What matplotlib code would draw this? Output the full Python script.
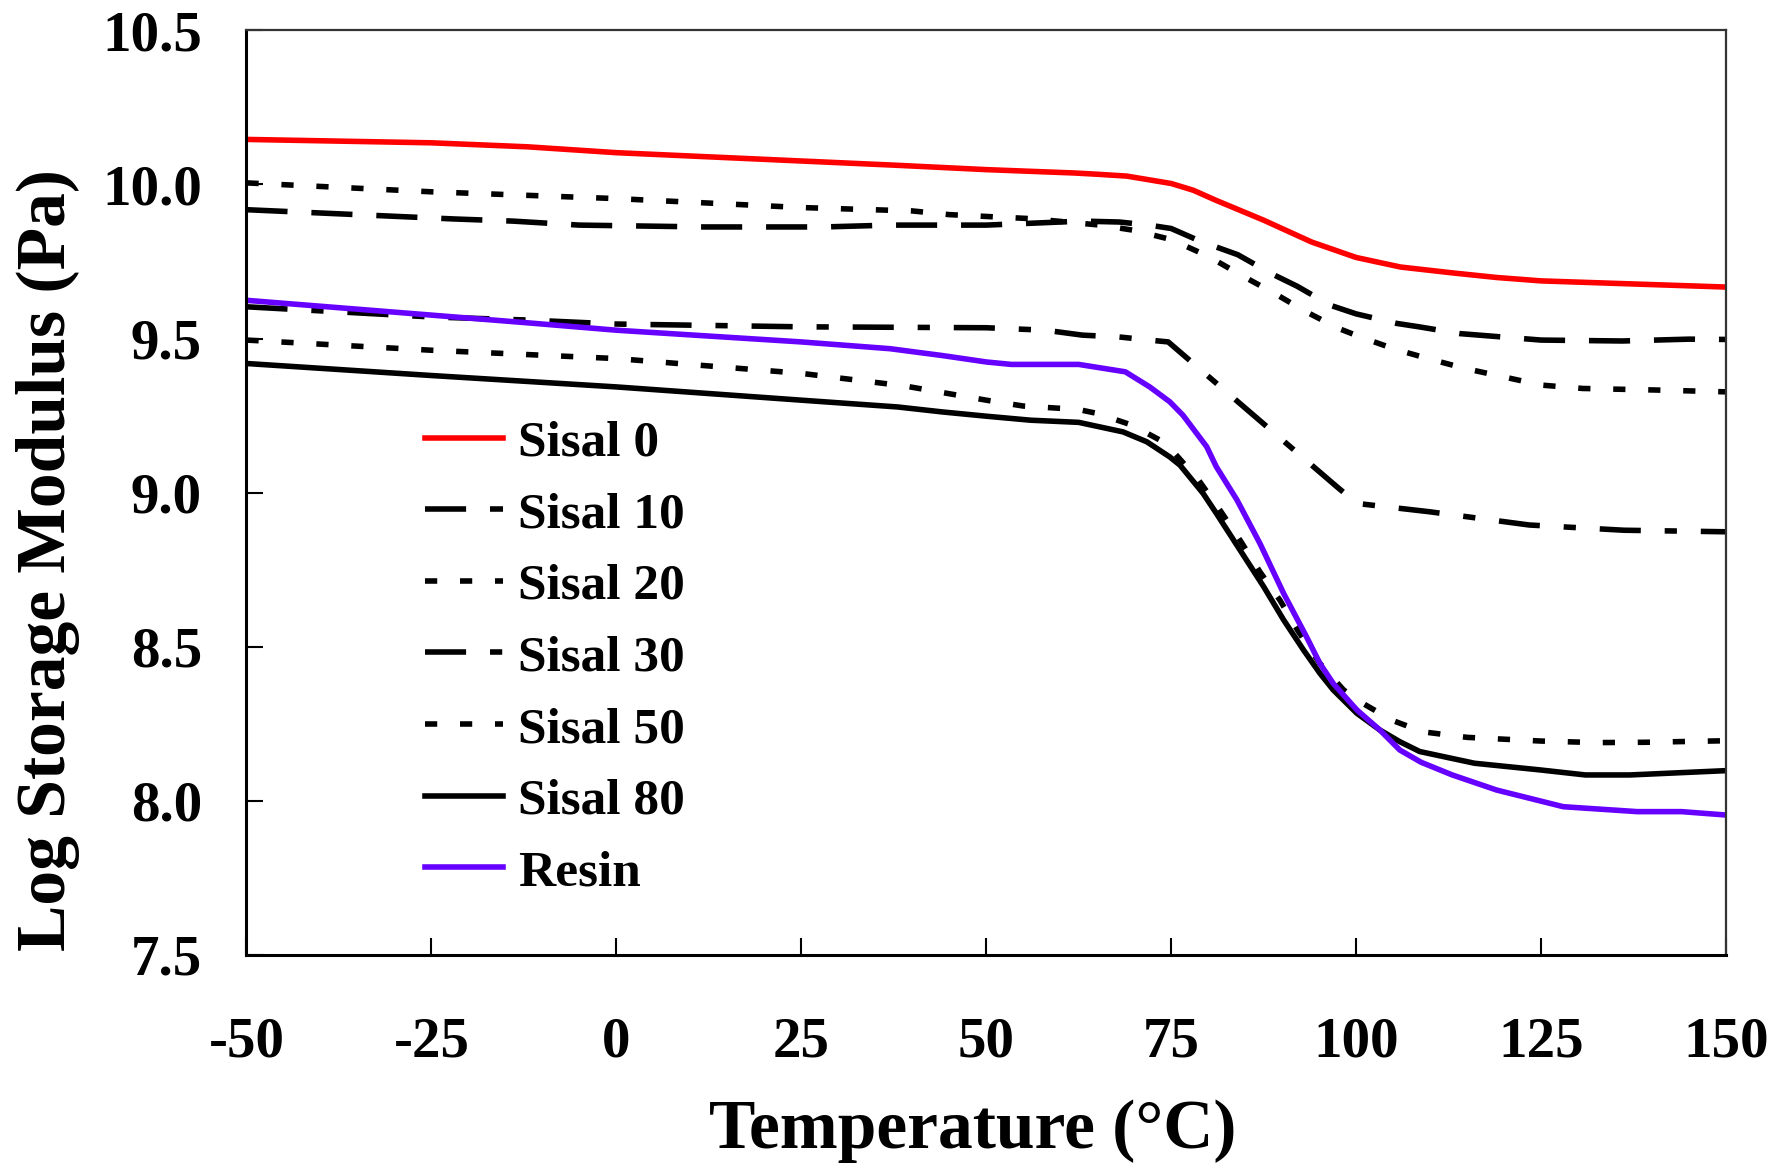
import matplotlib
matplotlib.use("Agg")
import matplotlib.pyplot as plt

plt.rcParams["font.family"] = ["Liberation Serif", "DejaVu Serif"]
plt.rcParams["font.weight"] = "bold"
plt.rcParams["axes.unicode_minus"] = False

# temperature (C) and log storage modulus (Pa)
t_sisal0 = [-50, -25, -12, 0, 25, 38, 50, 62, 65, 69, 75, 78, 81, 87.5, 94, 100, 106, 113, 119, 125, 150]
sisal0 = [10.146, 10.135, 10.122, 10.103, 10.076, 10.062, 10.048, 10.037, 10.033, 10.027, 10.003,
          9.981, 9.949, 9.884, 9.813, 9.763, 9.732, 9.713, 9.698, 9.687, 9.667]

t_sisal10 = [-50, -22, -14, -5, 12, 28, 37, 50, 63, 68, 72, 75, 79, 84, 88.5, 92, 96.5, 100,
             105.5, 108.5, 114, 125, 136, 145, 150]
sisal10 = [9.918, 9.888, 9.881, 9.868, 9.862, 9.862, 9.868, 9.868, 9.881, 9.878, 9.868, 9.857,
           9.815, 9.772, 9.711, 9.670, 9.608, 9.580, 9.549, 9.538, 9.516, 9.495, 9.492, 9.498, 9.497]

t_sisal20 = [-50, -25, 0, 25, 40, 45, 56, 65.4, 70, 75, 80, 84.5, 89, 93.3, 97.6, 100.8, 105.3,
             110, 114.7, 125, 130.6, 140.4, 150]
sisal20 = [10.005, 9.976, 9.954, 9.925, 9.914, 9.902, 9.889, 9.868, 9.851, 9.821, 9.767, 9.705,
           9.646, 9.586, 9.533, 9.503, 9.465, 9.433, 9.403, 9.349, 9.338, 9.333, 9.327]

t_sisal30 = [-50, -25, -12, 0, 25, 50, 58, 63, 68, 72, 74.6, 97.4, 100.1, 109.9, 123.4, 136.2, 150]
sisal30 = [9.603, 9.570, 9.560, 9.547, 9.538, 9.535, 9.527, 9.511, 9.505, 9.495, 9.489, 9.019,
           8.965, 8.938, 8.895, 8.878, 8.873]

t_sisal50 = [-50, -25, 0, 25, 39, 50, 55, 62.4, 65, 69.7, 73.9, 75.5, 78.7, 81.6, 84.3, 87, 89.7,
             92.2, 95.1, 98.3, 100.5, 104.8, 109, 115, 125, 132.5, 139, 150]
sisal50 = [9.495, 9.462, 9.435, 9.387, 9.346, 9.300, 9.281, 9.270, 9.257, 9.219, 9.165, 9.127,
           9.041, 8.943, 8.846, 8.743, 8.651, 8.549, 8.446, 8.360, 8.322, 8.262, 8.224, 8.206,
           8.194, 8.189, 8.190, 8.195]

t_sisal80 = [-50, -25, 0, 25, 38, 44, 50, 56, 62.5, 68.5, 71.7, 74.8, 76.2, 79.3, 81.1, 84.3,
             87.5, 90.2, 92.9, 95.1, 96.9, 100.1, 103.2, 105.9, 108.6, 116, 125, 131, 137, 150]
sisal80 = [9.419, 9.380, 9.343, 9.300, 9.278, 9.262, 9.248, 9.235, 9.228, 9.197, 9.165, 9.116,
           9.089, 8.998, 8.933, 8.814, 8.695, 8.587, 8.489, 8.414, 8.360, 8.284, 8.230, 8.192,
           8.160, 8.122, 8.100, 8.084, 8.084, 8.098]

t_resin = [-50, -12, 0, 25, 37, 44, 50, 53.4, 62.5, 68.8, 72.1, 74.8, 76.6, 79.8, 81.1, 83.9, 87,
           90.2, 93.3, 95.1, 96.9, 100.1, 103.2, 105.9, 108.8, 113, 119, 128, 138, 144, 150]
resin = [9.624, 9.551, 9.527, 9.489, 9.467, 9.445, 9.424, 9.416, 9.416, 9.392, 9.343, 9.295,
         9.251, 9.149, 9.084, 8.976, 8.835, 8.673, 8.532, 8.446, 8.381, 8.295, 8.230, 8.165,
         8.125, 8.084, 8.035, 7.981, 7.965, 7.965, 7.954]

x_ticks = [-50, -25, 0, 25, 50, 75, 100, 125, 150]
y_ticks = [7.5, 8.0, 8.5, 9.0, 9.5, 10.0, 10.5]

lw = 4.0
long_dash = (0, (7.4, 4.3))
dots = (0, (2.2, 4.1))
dash_dot = (0, (7.4, 4.3, 2.2, 4.3))

fig = plt.figure(figsize=(17.73, 11.66), dpi=100)
ax = fig.add_axes([0.139, 0.181, 0.8345, 0.793])

ax.plot(t_sisal0, sisal0, color="#ff0000", lw=lw, label="Sisal 0")
ax.plot(t_sisal10, sisal10, color="black", lw=lw, ls=long_dash, label="Sisal 10")
ax.plot(t_sisal20, sisal20, color="black", lw=lw, ls=dots, label="Sisal 20")
ax.plot(t_sisal30, sisal30, color="black", lw=lw, ls=dash_dot, label="Sisal 30")
ax.plot(t_sisal50, sisal50, color="black", lw=lw, ls=dots, label="Sisal 50")
ax.plot(t_sisal80, sisal80, color="black", lw=lw, label="Sisal 80")
ax.plot(t_resin, resin, color="#6600ff", lw=lw, label="Resin")

ax.set_xlim(-50, 150)
ax.set_ylim(7.5, 10.5)
ax.set_xticks(x_ticks)
ax.set_yticks(y_ticks)
ax.set_yticklabels([f"{v:.1f}" for v in y_ticks])
ax.tick_params(axis="both", direction="in", length=12, width=1.5, labelsize=41)
ax.tick_params(axis="x", pad=44)
ax.tick_params(axis="y", pad=32)

for side in ["left", "bottom"]:
    ax.spines[side].set_linewidth(2.2)
    ax.spines[side].set_color("black")
for side in ["top", "right"]:
    ax.spines[side].set_linewidth(1.6)
    ax.spines[side].set_color("#333333")

ax.set_xlabel("Temperature (°C)", fontsize=50, fontweight="bold")
ax.xaxis.set_label_coords(0.491, -0.19)
ax.xaxis.label.set_va("center")
ax.set_ylabel("Log Storage Modulus (Pa)", fontsize=50, fontweight="bold")
ax.yaxis.set_label_coords(-0.134, 0.427)
ax.yaxis.label.set_va("center")

ax.legend(loc="upper left", bbox_to_anchor=(0.1206, 0.579), frameon=False, fontsize=37,
          handlelength=1.52, handletextpad=0.29, labelspacing=0.48,
          borderpad=0, borderaxespad=0)

fig.savefig("out.png", dpi=100)
